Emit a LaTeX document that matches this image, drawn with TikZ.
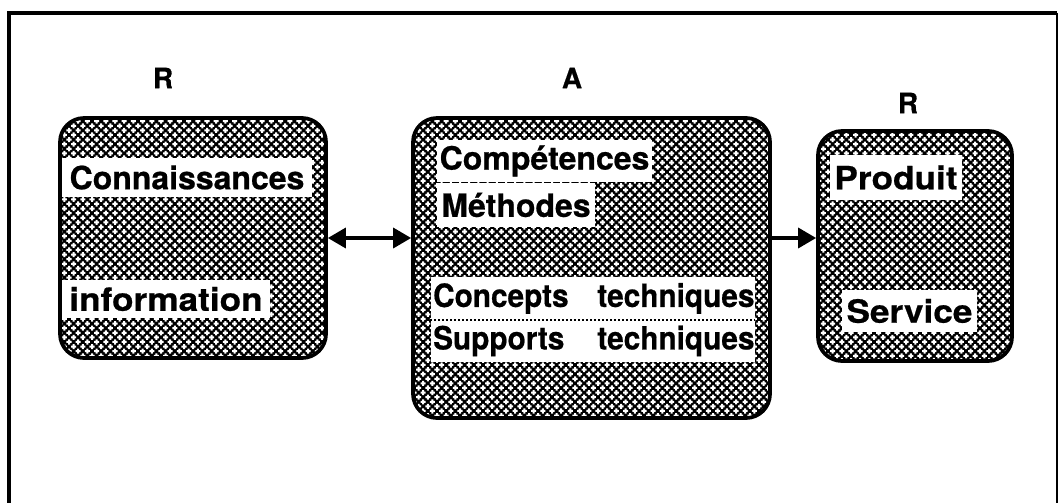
\documentclass[tikz,border=0pt]{standalone}
\usepackage{fontspec}
\setmainfont{TeX Gyre Heros}[BoldFeatures={FakeBold=0.6}]
\usetikzlibrary{arrows.meta,patterns}
\pgfdeclarepatternformonly{plusdots}{\pgfqpoint{-2.2pt}{-2.2pt}}{\pgfqpoint{5.7pt}{5.7pt}}{\pgfqpoint{6.9pt}{6.9pt}}{
  \pgfpathrectangle{\pgfqpoint{-1.9pt}{-0.75pt}}{\pgfqpoint{3.8pt}{1.5pt}}
  \pgfpathrectangle{\pgfqpoint{-0.75pt}{-1.9pt}}{\pgfqpoint{1.5pt}{3.8pt}}
  \pgfpathrectangle{\pgfqpoint{1.55pt}{2.7pt}}{\pgfqpoint{3.8pt}{1.5pt}}
  \pgfpathrectangle{\pgfqpoint{2.7pt}{1.55pt}}{\pgfqpoint{1.5pt}{3.8pt}}
  \pgfusepath{fill}
}
\tikzset{
  bigbox/.style={draw, line width=2.8pt, rounded corners=18pt, inner sep=0pt,
    preaction={fill=black}, pattern=plusdots, pattern color=white},
  txt/.style={fill=white, inner sep=0pt, font=\fontsize{24}{27}\selectfont\bfseries},
  lbl/.style={inner sep=0pt, font=\fontsize{21}{24}\selectfont\bfseries},
  conn/.style={line width=2.6pt},
}
\begin{document}
\begin{tikzpicture}[x=0.75pt,y=-0.75pt, >={Triangle[length=13.5pt,width=15pt]}]
\useasboundingbox (0,0) rectangle (1060,503);
\clip (0,0) rectangle (1060,503);
% frame
\draw[line width=2.6pt] (9,520) -- (9,13) -- (1057,13);
\draw[line width=1.4pt] (1057,13) -- (1057,520);
% labels
\node[lbl] (r1) at (163,78) {R};
\node[lbl] (a) at (572,78) {A};
\node[lbl] (r2) at (908,103) {R};
% boxes
\node[bigbox, minimum width=199.5pt, minimum height=180pt] (L) at (193,238) {};
\node[bigbox, minimum width=267.75pt, minimum height=225pt] (A) at (591.5,268) {};
\node[bigbox, minimum width=145.5pt, minimum height=172.5pt] (R) at (915,246) {};
% white text boxes
\node[txt, minimum width=187.5pt, minimum height=29pt] (t1) at (187,177.5) {Connaissances};
\node[txt, minimum width=156pt, minimum height=28.5pt] (t2) at (166,299) {\scalebox{1.1}[1]{information}};
\node[txt, minimum width=161pt, minimum height=31.5pt] (t3) at (544.5,161) {Compétences};
\node[txt, minimum width=118.5pt, minimum height=33pt] (t4) at (516,205) {Méthodes};
\node[txt, minimum height=32pt, text width=243pt, align=left] (t5) at (592.5,298.5) {\hspace*{2pt}\scalebox{0.93}[1]{Concepts}\hfill \scalebox{0.93}[1]{techniques}\hspace*{3pt}};
\node[txt, minimum height=31.5pt, text width=243pt, align=left] (t6) at (592.5,341) {\hspace*{2pt}\scalebox{0.93}[1]{Supports}\hfill \scalebox{0.93}[1]{techniques}\hspace*{3pt}};
\draw[dotted, line width=1pt] (t5.south west) -- (t5.south east);
\node[txt, minimum width=99pt, minimum height=33.75pt] (t7) at (896,177.5) {\scalebox{1.1}[1]{Produit}};
\node[txt, minimum width=101pt, minimum height=31.5pt] (t8) at (909.5,311) {\scalebox{1.1}[1]{Service}};
% connectors
\draw[conn, <->] (L.east) -- (L.east -| A.west);
\draw[conn, ->] (A.east |- L.east) -- (R.west |- L.east);
\end{tikzpicture}
\end{document}
